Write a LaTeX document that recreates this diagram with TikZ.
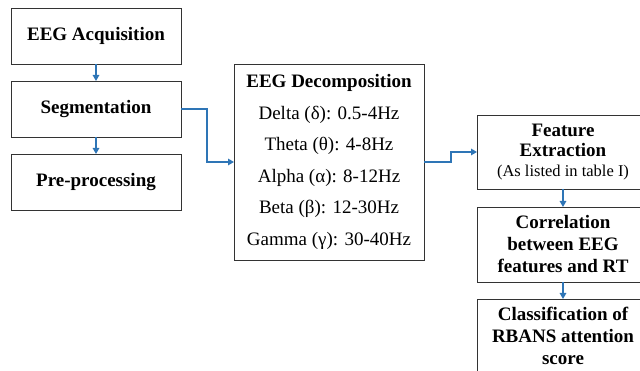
\documentclass[tikz,border=0pt]{standalone}
\usepackage{fontspec}
\setmainfont{Liberation Serif}
\usetikzlibrary{positioning,arrows.meta}
\definecolor{flowblue}{RGB}{46,117,182}

\begin{document}
\begin{tikzpicture}[x=1pt,y=-1pt,
    box/.style={rectangle,draw=black!80,line width=0.9pt,inner sep=2pt,outer sep=0pt,align=center},
    ->/.style={draw=flowblue,line width=1.4pt,-{Triangle[length=6pt,width=6.5pt]}}]
    \useasboundingbox (0,0) rectangle (640,371);
    \clip (0,0) rectangle (640,371);

    \node[box,minimum width=170pt,minimum height=56pt,font=\fontsize{19}{22}\selectfont\bfseries] (ACQ) at (96,36) {EEG Acquisition};
    \node[box,minimum width=170pt,minimum height=56pt,font=\fontsize{19}{22}\selectfont\bfseries,below=17pt of ACQ] (SEG) {Segmentation};
    \node[box,minimum width=170pt,minimum height=56pt,font=\fontsize{19}{22}\selectfont\bfseries,below=17pt of SEG] (PRE) {Pre-processing};

    \node[box,minimum width=190pt,minimum height=196pt,font=\fontsize{19}{31.6}\selectfont] (DEC) at (329,162)
        {\textbf{EEG Decomposition}\\Delta (δ): 0.5-4Hz\\Theta (θ): 4-8Hz\\Alpha (α): 8-12Hz\\Beta (β): 12-30Hz\\Gamma (γ): 30-40Hz};

    \node[box,minimum width=172pt,minimum height=74pt,font=\fontsize{19}{20}\selectfont] (FE) at (563,152)
        {\textbf{Feature}\\\textbf{Extraction}\\{\fontsize{16.5}{20}\selectfont (As listed in table I)}};
    \node[box,minimum width=172pt,minimum height=75pt,font=\fontsize{19}{22}\selectfont\bfseries,below=18pt of FE] (COR)
        {Correlation\\between EEG\\features and RT};
    \node[box,minimum width=172pt,minimum height=74pt,font=\fontsize{19}{22}\selectfont\bfseries,below=17pt of COR] (CLS)
        {Classification of\\RBANS attention\\score};

    \foreach \u / \v in {ACQ/SEG,SEG/PRE,FE/COR,COR/CLS}
        \draw[->] (\u) -- (\v);
    \draw[->] (SEG.east) -- ++(26,0) |- (DEC.west);
    \draw[->] (DEC.east) -- ++(27,0) |- (FE.west);
\end{tikzpicture}
\end{document}
